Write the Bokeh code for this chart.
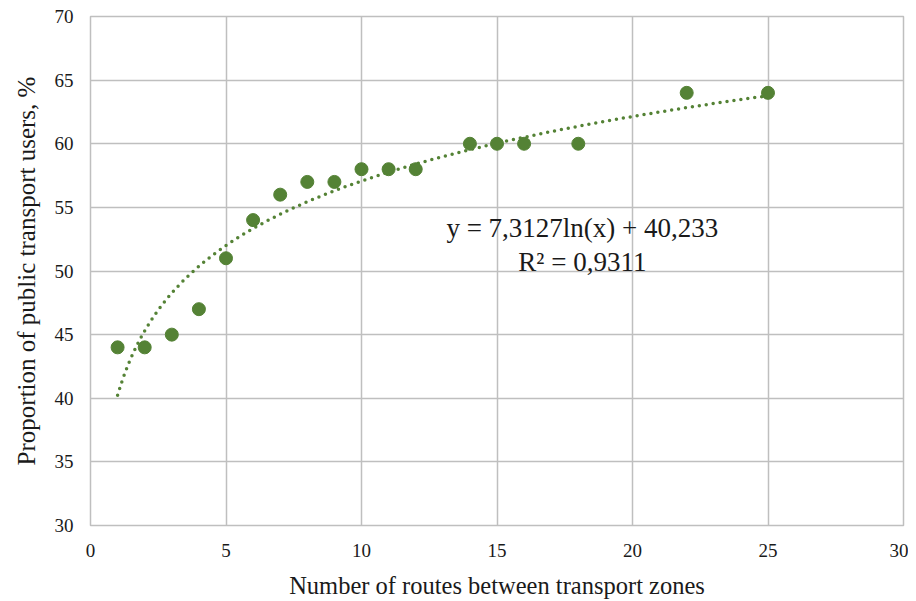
import numpy as np
from bokeh.plotting import figure
from bokeh.models import Label, FixedTicker, Range1d
from bokeh.embed import file_html
from bokeh.resources import INLINE

# Data
routes = [1, 2, 3, 4, 5, 6, 7, 8, 9, 10, 11, 12, 14, 15, 16, 18, 22, 25]
share = [44, 44, 45, 47, 51, 54, 56, 57, 57, 58, 58, 58, 60, 60, 60, 60, 64, 64]

# Trendline as printed on the chart: y = 7,3127 ln(x) + 40,233
trend_a = 7.3127
trend_b = 40.233
trend_x = np.linspace(1, 25, 200)
trend_y = trend_a * np.log(trend_x) + trend_b

eq_line1 = "y = 7,3127ln(x) + 40,233"
eq_line2 = "R² = 0,9311"

x_ticks = [0, 5, 10, 15, 20, 25, 30]
y_ticks = [30, 35, 40, 45, 50, 55, 60, 65, 70]

GREEN = "#548235"
GRID = "#bfbfbf"
FONT = "Liberation Serif"

p = figure(width=908, height=601, output_backend="svg", toolbar_location=None,
           x_range=Range1d(0, 30), y_range=Range1d(30, 70),
           min_border_left=90, min_border_right=5, min_border_top=16, min_border_bottom=75)
p.background_fill_color = "white"
p.border_fill_color = "white"
p.outline_line_color = GRID
p.outline_line_width = 1.5

p.xaxis.ticker = FixedTicker(ticks=x_ticks)
p.yaxis.ticker = FixedTicker(ticks=y_ticks)
p.xgrid.ticker = FixedTicker(ticks=x_ticks)
p.ygrid.ticker = FixedTicker(ticks=y_ticks)
p.grid.grid_line_color = GRID
p.grid.grid_line_width = 1.5

for ax in (p.xaxis, p.yaxis):
    ax.axis_line_color = None
    ax.major_tick_line_color = None
    ax.minor_tick_line_color = None
    ax.major_tick_out = 0
    ax.major_tick_in = 0
    ax.minor_tick_out = 0
    ax.major_label_text_font = FONT
    ax.major_label_text_font_size = "19px"
    ax.major_label_text_color = "#1a1a1a"
    ax.axis_label_text_font = FONT
    ax.axis_label_text_font_style = "normal"
    ax.axis_label_text_color = "#1a1a1a"

p.xaxis.axis_label = "Number of routes between transport zones"
p.xaxis.axis_label_text_font_size = "24.5px"
p.xaxis.major_label_standoff = 18
p.xaxis.axis_label_standoff = 12

p.yaxis.axis_label = "Proportion of public transport users, %"
p.yaxis.axis_label_text_font_size = "25px"
p.yaxis.major_label_standoff = 17
p.yaxis.axis_label_standoff = 12

p.line(trend_x, trend_y, line_color=GREEN, line_width=3.5, line_dash="0 7", line_cap="round")
p.scatter(routes, share, size=13, fill_color=GREEN, line_color=GREEN)

p.add_layout(Label(x=18.15, y=53.37, text=eq_line1, text_align="center", text_baseline="middle",
                   text_font=FONT, text_font_size="27px", text_color="#1a1a1a"))
p.add_layout(Label(x=18.15, y=50.71, text=eq_line2, text_align="center", text_baseline="middle",
                   text_font=FONT, text_font_size="27px", text_color="#1a1a1a"))

open("out.html", "w").write(file_html(p, INLINE))
